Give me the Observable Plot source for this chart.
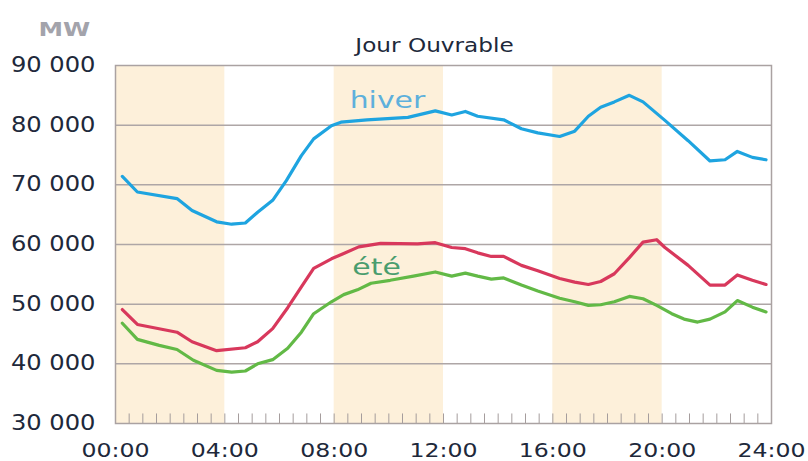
<!DOCTYPE html>
<html><head><meta charset="utf-8">
<script src="https://cdn.jsdelivr.net/npm/d3@7"></script>
<script src="https://cdn.jsdelivr.net/npm/@observablehq/plot@0.6"></script>
<style>body{margin:0;background:#fff} #chart svg{display:block}</style>
</head><body><div id="chart"></div><script>
// Hours of day (vertices) and values in MW
const hiverHours = [0.25,0.8,2.25,2.8,3.7,4.25,4.75,5.2,5.75,6.25,6.8,7.25,7.9,8.25,9.2,10.7,11.7,12.3,12.8,13.25,14.2,14.85,15.45,16.25,16.8,17.3,17.75,18.25,18.8,19.3,20.1,20.95,21.75,22.3,22.75,23.3,23.8];
const hiverMW    = [71400,68800,67700,65700,63800,63400,63600,65400,67400,70700,74900,77700,79900,80500,80900,81300,82400,81700,82300,81500,80900,79400,78700,78100,79000,81500,83000,83900,85000,83900,80800,77400,74000,74200,75600,74600,74200];

const redHours = [0.25,0.8,2.25,2.8,3.7,4.75,5.2,5.75,6.3,6.8,7.25,7.9,8.35,8.9,9.7,11.05,11.7,12.3,12.8,13.25,13.75,14.2,14.85,15.45,16.25,16.8,17.3,17.75,18.25,18.8,19.3,19.8,20.1,20.95,21.75,22.3,22.75,23.3,23.8];
const redMW    = [49100,46600,45300,43700,42200,42700,43700,45900,49400,52900,56000,57600,58500,59600,60200,60100,60300,59500,59300,58600,58000,58000,56500,55600,54300,53700,53300,53800,55100,57800,60400,60800,59500,56500,53200,53200,54900,54000,53300];

const eteHours = [0.25,0.8,1.6,2.25,2.85,3.7,4.25,4.75,5.2,5.75,6.3,6.8,7.25,7.9,8.35,8.85,9.35,10.05,10.9,11.7,12.3,12.8,13.25,13.75,14.2,14.85,15.45,16.25,16.8,17.3,17.75,18.25,18.8,19.3,19.8,20.35,20.8,21.3,21.75,22.3,22.75,23.3,23.8];
const eteMW    = [46800,44100,43100,42400,40600,38900,38600,38800,40000,40700,42600,45300,48400,50400,51600,52400,53500,54000,54700,55400,54700,55200,54700,54200,54400,53200,52200,51000,50400,49800,49900,50400,51300,50900,49800,48400,47500,47000,47500,48700,50600,49500,48700];

const bandStarts = [0, 8, 16];
const bandEnds   = [4, 12, 20];
const yTicks = [30000, 40000, 50000, 60000, 70000, 80000, 90000];
const xTicks = [0, 4, 8, 12, 16, 20, 24];
const minorTicks = d3.range(1, 48).map(i => i / 2);
const labelNames = ["hiver", "été"];
const labelHours = [9.95, 9.55];
const labelMW = [84100, 56200];
const labelColors = ["#5eb0dc", "#4a9d6e"];

const mk = (h, v) => h.map((t, i) => ({t, v: v[i]}));
const bands = bandStarts.map((s, i) => ({s, e: bandEnds[i]}));
const labels = labelNames.map((n, i) => ({n, t: labelHours[i], v: labelMW[i], c: labelColors[i]}));
const ink = "#20283a";

const chart = Plot.plot({
  width: 808, height: 461,
  marginLeft: 115, marginRight: 37, marginTop: 65, marginBottom: 38,
  style: {fontFamily: "DejaVu Sans", background: "#fff", overflow: "visible"},
  x: {domain: [0, 24]},
  y: {domain: [30000, 90000]},
  marks: [
    Plot.rect(bands, {x1: "s", x2: "e", fill: "#fdf0da"}),
    Plot.ruleY(yTicks.slice(1, -1), {stroke: "#aea6a6", strokeWidth: 1.5}),
    Plot.ruleX(minorTicks, {y1: 30000, y2: 31600, stroke: "#a59d9d", strokeWidth: 1}),
    Plot.frame({stroke: "#aaa2a2", strokeWidth: 1.5}),
    Plot.axisY(yTicks, {tickSize: 0, tickPadding: 20, fontSize: 20.5, fill: ink, label: null,
      tickFormat: d => d3.format(",")(d).replace(/,/g, " ")}),
    Plot.axisX(xTicks, {tickSize: 0, tickPadding: 19, fontSize: 20, fill: ink, label: null,
      tickFormat: d => String(d).padStart(2, "0") + ":00"}),
    Plot.line(mk(hiverHours, hiverMW), {x: "t", y: "v", stroke: "#1ea4e0", strokeWidth: 3.2}),
    Plot.line(mk(redHours, redMW), {x: "t", y: "v", stroke: "#d8385c", strokeWidth: 3.2}),
    Plot.line(mk(eteHours, eteMW), {x: "t", y: "v", stroke: "#62b946", strokeWidth: 3.2}),
    Plot.text(labels, {x: "t", y: "v", text: "n", fill: "c", fontSize: 23}),
    Plot.text(["Jour Ouvrable"], {frameAnchor: "top", dx: -9, dy: -27, fontSize: 19, fill: ink}),
    Plot.text(["MW"], {frameAnchor: "top-left", textAnchor: "start", dx: -77, dy: -43, fontSize: 19, fontWeight: "bold", fill: "#a3a3ab"})
  ]
});
function stretch(el, s) {
  let tr = el.getAttribute("transform") || "";
  const x = el.getAttribute("x");
  if (x != null && /^-?[\d.]+$/.test(x)) {
    tr += ` translate(${x},0)`;
    el.removeAttribute("x");
  }
  el.setAttribute("transform", (tr + ` scale(${s},1)`).trim());
}
d3.select(chart).selectAll("text").each(function() {
  const t = this.textContent;
  let s = 1.18;
  if (t === "hiver" || t === "été") s = 1.3;
  else if (t === "Jour Ouvrable") s = 1.22;
  else if (t === "MW") s = 1.3;
  stretch(this, s);
});
document.getElementById("chart").appendChild(chart);
</script></body></html>
